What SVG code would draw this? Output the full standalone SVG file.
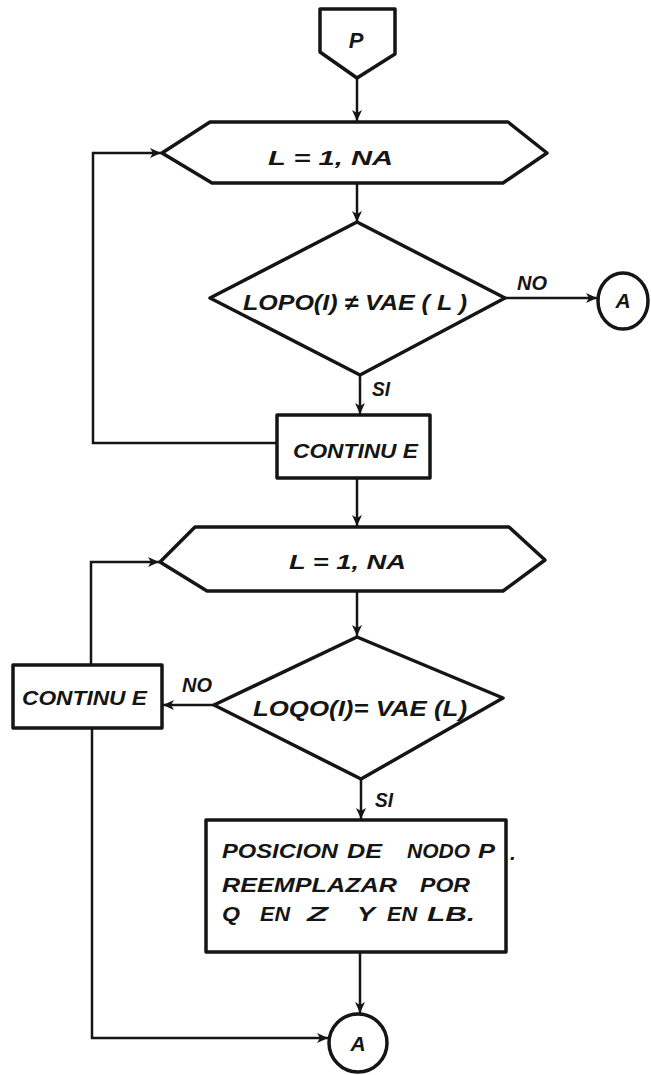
<svg xmlns="http://www.w3.org/2000/svg" width="651" height="1075" viewBox="0 0 651 1075">
  <style>
    .shape { fill: #fff; stroke: #151515; stroke-width: 3.5; stroke-linejoin: round; }
    .conn { fill: none; stroke: #151515; stroke-width: 2.5; }
    .t { font-family: "Liberation Sans", Arial, sans-serif; font-weight: bold; font-style: italic; fill: #151515; }
    .lbl { font-size: 20px; }
    .mid { text-anchor: middle; }
    .box { font-size: 21px; }
  </style>
  <defs>
    <marker id="arrow" markerUnits="userSpaceOnUse" markerWidth="12" markerHeight="12" refX="11" refY="5" orient="auto">
      <path d="M0,0 L11,5 L0,10 L3,5 z" fill="#151515"/>
    </marker>
  </defs>
  <rect width="651" height="1075" fill="#fff"/>

  <!-- connectors -->
  <g id="connectors">
    <line class="conn" x1="357" y1="78" x2="357" y2="121" marker-end="url(#arrow)"/>
    <line class="conn" x1="357" y1="183" x2="357" y2="222" marker-end="url(#arrow)"/>
    <line class="conn" x1="505" y1="298" x2="597" y2="298" marker-end="url(#arrow)"/>
    <line class="conn" x1="360" y1="375" x2="360" y2="414" marker-end="url(#arrow)"/>
    <polyline class="conn" points="277,443 93,443 93,153 161,153" marker-end="url(#arrow)"/>
    <line class="conn" x1="357" y1="478" x2="357" y2="526" marker-end="url(#arrow)"/>
    <line class="conn" x1="357" y1="591" x2="357" y2="636" marker-end="url(#arrow)"/>
    <polyline class="conn" points="91,665 91,562 159,562" marker-end="url(#arrow)"/>
    <line class="conn" x1="214" y1="705" x2="163" y2="705" marker-end="url(#arrow)"/>
    <line class="conn" x1="361" y1="779" x2="361" y2="819" marker-end="url(#arrow)"/>
    <line class="conn" x1="360" y1="952" x2="360" y2="1013" marker-end="url(#arrow)"/>
    <polyline class="conn" points="92,728 92,1038 328,1038" marker-end="url(#arrow)"/>
  </g>

  <!-- off-page connector P -->
  <g id="start-p">
    <polygon class="shape" points="320,9 395,9 395,54 357,78 320,52"/>
    <text class="t mid" x="356" y="48" font-size="22">P</text>
  </g>

  <!-- first DO loop -->
  <g id="loop1">
    <polygon class="shape" points="162,153 210,122 508,122 547,153 503,183 212,183"/>
    <text class="t" x="268" y="165" font-size="21" textLength="125" lengthAdjust="spacingAndGlyphs">L = 1, NA</text>
  </g>

  <g id="test1">
    <polygon class="shape" points="357,222 505,298 360,375 210,298"/>
    <text class="t" x="243" y="310" font-size="22" textLength="224" lengthAdjust="spacingAndGlyphs">LOPO(I) ≠ VAE ( L )</text>
    <text class="t lbl" x="517" y="290" textLength="30" lengthAdjust="spacingAndGlyphs">NO</text>
    <text class="t lbl" x="372" y="396" textLength="18" lengthAdjust="spacingAndGlyphs">SI</text>
  </g>

  <g id="conn-a-top">
    <ellipse class="shape" cx="623" cy="301" rx="25" ry="28"/>
    <text class="t mid" x="623" y="308" font-size="21">A</text>
  </g>

  <g id="continue1">
    <rect class="shape" x="277" y="415" width="153" height="63"/>
    <text class="t" x="293" y="458" font-size="21" textLength="125" lengthAdjust="spacingAndGlyphs">CONTINU E</text>
  </g>

  <!-- second DO loop -->
  <g id="loop2">
    <polygon class="shape" points="160,562 195,527 509,527 545,560 503,591 207,591"/>
    <text class="t" x="289" y="569" font-size="20" textLength="117" lengthAdjust="spacingAndGlyphs">L = 1, NA</text>
  </g>

  <g id="test2">
    <polygon class="shape" points="357,637 503,698 361,779 214,705"/>
    <text class="t" x="253" y="716" font-size="22" textLength="214" lengthAdjust="spacingAndGlyphs">LOQO(I)= VAE (L)</text>
    <text class="t lbl" x="182" y="692" textLength="30" lengthAdjust="spacingAndGlyphs">NO</text>
    <text class="t lbl" x="375" y="807" textLength="18" lengthAdjust="spacingAndGlyphs">SI</text>
  </g>

  <g id="continue2">
    <rect class="shape" x="13" y="665" width="149" height="63"/>
    <text class="t" x="22" y="705" font-size="21" textLength="125" lengthAdjust="spacingAndGlyphs">CONTINU E</text>
  </g>

  <g id="replace">
    <rect class="shape" x="206" y="820" width="300" height="132"/>
    <g class="t box">
      <text x="222" y="858" textLength="116" lengthAdjust="spacingAndGlyphs">POSICION</text>
      <text x="347" y="858" textLength="35" lengthAdjust="spacingAndGlyphs">DE</text>
      <text x="407" y="858" textLength="63" lengthAdjust="spacingAndGlyphs">NODO</text>
      <text x="478" y="858" textLength="17" lengthAdjust="spacingAndGlyphs">P</text>
      <text x="510" y="860">.</text>
      <text x="222" y="892" textLength="175" lengthAdjust="spacingAndGlyphs">REEMPLAZAR</text>
      <text x="420" y="892" textLength="50" lengthAdjust="spacingAndGlyphs">POR</text>
      <text x="222" y="921" textLength="18" lengthAdjust="spacingAndGlyphs">Q</text>
      <text x="260" y="921" textLength="30" lengthAdjust="spacingAndGlyphs">EN</text>
      <text x="307" y="921" textLength="21" lengthAdjust="spacingAndGlyphs">Z</text>
      <text x="357" y="921" textLength="18" lengthAdjust="spacingAndGlyphs">Y</text>
      <text x="387" y="921" textLength="30" lengthAdjust="spacingAndGlyphs">EN</text>
      <text x="427" y="921" textLength="48" lengthAdjust="spacingAndGlyphs">LB.</text>
    </g>
  </g>

  <g id="conn-a-bottom">
    <circle class="shape" cx="358" cy="1043" r="29"/>
    <text class="t mid" x="358" y="1051" font-size="21">A</text>
  </g>
</svg>
